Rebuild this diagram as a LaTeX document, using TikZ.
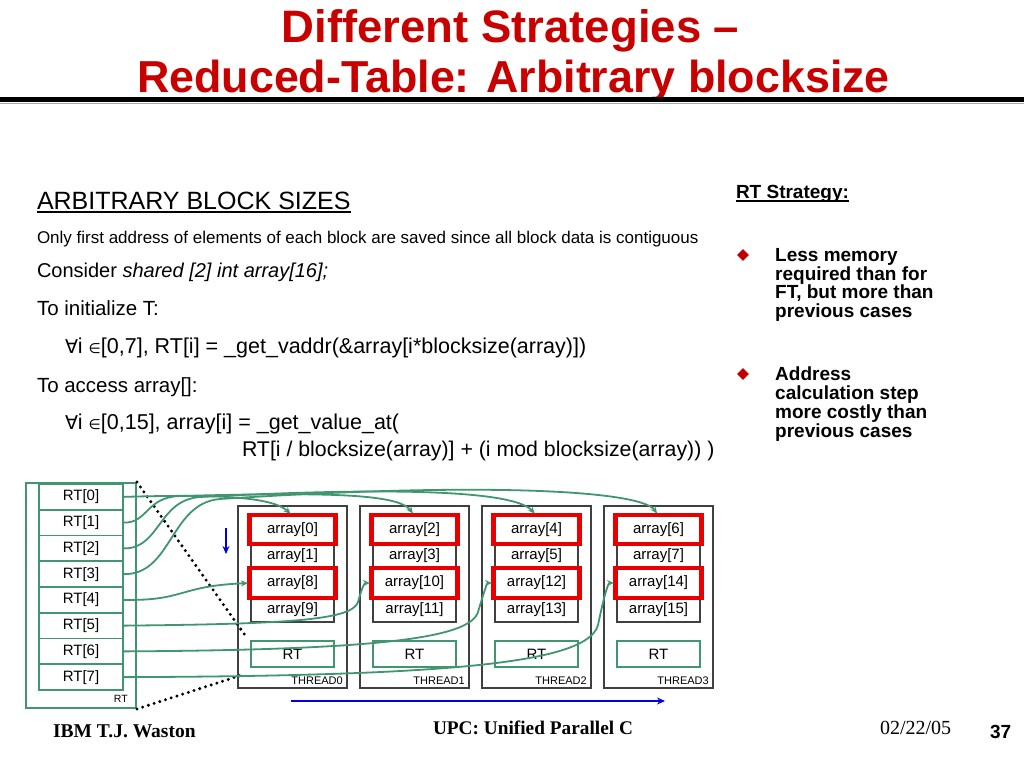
\documentclass[tikz,border=0pt]{standalone}
\usepackage{fontspec}
\setmainfont{Liberation Sans}
\newfontfamily\seriffont{Liberation Serif}
\newfontfamily\symfont{DejaVu Sans}
\usetikzlibrary{arrows.meta,shapes.geometric}
\definecolor{titlered}{RGB}{200,0,0}
\definecolor{rtgreen}{RGB}{64,150,110}
\definecolor{boxred}{RGB}{232,0,0}
\definecolor{arrblue}{RGB}{0,0,225}
\definecolor{bulletred}{RGB}{190,0,0}
\newcommand{\myfs}[1]{\fontsize{#1}{#1}\selectfont}
\begin{document}
\begin{tikzpicture}[x=1pt,y=-1pt,
  txt/.style={anchor=base west, inner sep=0pt, outer sep=0pt},
  ttl/.style={anchor=base, inner sep=0pt, text=titlered, font=\bfseries\myfs{45.5}},
  cellrt/.style={draw=rtgreen, line width=1.7pt, minimum width=84pt, minimum height=25.75pt, inner sep=0pt, font=\myfs{15}},
  arrcell/.style={draw=black!75, line width=1.1pt, minimum width=83pt, inner sep=0pt, font=\myfs{15}},
  threadbox/.style={draw=black!75, line width=1.1pt, minimum width=109pt, minimum height=182pt, inner sep=0pt},
  smallrt/.style={draw=rtgreen, line width=1.4pt, minimum width=83pt, minimum height=26pt, inner sep=0pt, font=\myfs{15}},
  redbox/.style={draw=boxred, line width=4.8pt},
  link/.style={draw=rtgreen, line width=1.8pt, -{Stealth[length=7pt,width=6pt]}, shorten >=2.5pt},
  dotline/.style={line width=3.3pt, line cap=round, dash pattern=on 0pt off 6pt},
  bluearrow/.style={draw=arrblue, line width=1.7pt, -{Stealth[length=8pt,width=7pt]}},
  bul/.style={diamond, fill=bulletred, minimum size=12pt, inner sep=0pt},
  btxt/.style={anchor=base west, inner sep=0pt, font=\bfseries\myfs{19}}
]
\useasboundingbox (0,0) rectangle (1024,768);
\fill[white] (0,0) rectangle (1024,768);

% title
\node[ttl] (title1) at (510.5,42) {Different Strategies –};
\node[ttl, font=\bfseries\myfs{44.8}] (title2) at (513.5,92) {Reduced-Table: Arbitrary blocksize};
\draw[black!35, line width=1pt] (0,103) -- (1024,103);
\draw[black, line width=5pt] (0,99) -- (1024,99);

% left text
\node[txt, font=\myfs{25}] (hd) at (37,209) {ARBITRARY BLOCK SIZES};
\draw[line width=1.5pt] ([yshift=-3pt]hd.base west) -- ([yshift=-3pt]hd.base east);
\node[txt, font=\myfs{17}] (l1) at (37,243) {Only first address of elements of each block are saved since all block data is contiguous};
\node[txt, font=\myfs{20}] (l2) at (37,277) {Consider \textit{shared [2] int array[16];}};
\node[txt, font=\myfs{20.5}] (l3) at (37,315) {To initialize T:};
\node[txt, font=\myfs{21.5}] (l4) at (65,353) {{\symfont\myfs{19}∀}i {\symfont\myfs{14}∈}[0,7], RT[i] = \_get\_vaddr(\&array[i*blocksize(array)])};
\node[txt, font=\myfs{20.5}] (l5) at (37,392) {To access array[]:};
\node[txt, font=\myfs{21.5}] (l6) at (65,429) {{\symfont\myfs{19}∀}i {\symfont\myfs{14}∈}[0,15], array[i] = \_get\_value\_at(};
\node[txt, font=\myfs{21.3}] (l7) at (242,456) {RT[i / blocksize(array)] + (i mod blocksize(array)) )};

% right panel
\node[txt, font=\bfseries\myfs{19}] (rs) at (736,198) {RT Strategy:};
\draw[line width=1.5pt] ([yshift=-3pt]rs.base west) -- ([yshift=-3pt]rs.base east);
\node[bul] (b1) at (743,255) {};
\node[btxt] (b1a) at (775,261) {Less memory};
\node[btxt] (b1b) at (775,280) {required than for};
\node[btxt] (b1c) at (775,298.5) {FT, but more than};
\node[btxt] (b1d) at (775,317) {previous cases};
\node[bul] (b2) at (743,374) {};
\node[btxt] (b2a) at (775,380) {Address};
\node[btxt] (b2b) at (775,399) {calculation step};
\node[btxt] (b2c) at (775,418) {more costly than};
\node[btxt] (b2d) at (775,437) {previous cases};

% RT table
\node[draw=rtgreen, line width=1.9pt, minimum width=110pt, minimum height=225pt, inner sep=0pt] (rtouter) at (81,595.5) {};
\foreach \j in {0,...,7} {
  \node[cellrt] (rt\j) at (81,{496.875+25.75*\j}) {RT[\j]};
}
\node[anchor=base east, inner sep=0pt, font=\myfs{10.5}] (rtlbl) at (128,702) {RT};

% threads
\foreach \k in {0,1,2,3} {
  \pgfmathtruncatemacro\aa{2*\k}
  \pgfmathtruncatemacro\ab{2*\k+1}
  \pgfmathtruncatemacro\ac{2*\k+8}
  \pgfmathtruncatemacro\ad{2*\k+9}
  \node[threadbox] (th\k) at ({292.5+122*\k},597) {};
  \node[arrcell, minimum height=27pt] (c\k-0) at ({292.5+122*\k},529.5) {array[\aa]};
  \node[arrcell, minimum height=26pt] (c\k-1) at ({292.5+122*\k},556) {array[\ab]};
  \node[arrcell, minimum height=28pt] (c\k-2) at ({292.5+122*\k},583) {array[\ac]};
  \node[arrcell, minimum height=25pt] (c\k-3) at ({292.5+122*\k},609.5) {array[\ad]};
  \draw[redbox] ([xshift=-1pt,yshift=0.5pt]c\k-0.north west) rectangle ([xshift=1pt,yshift=-0.5pt]c\k-0.south east);
  \draw[redbox] ([xshift=-1pt,yshift=0.5pt]c\k-2.north west) rectangle ([xshift=1pt,yshift=-0.5pt]c\k-2.south east);
  \node[smallrt] (trt\k) at ({292.5+122*\k},654) {RT};
  \node[anchor=base east, inner sep=0pt, font=\myfs{11}] (tl\k) at ({343+122*\k},684) {THREAD\k};
}

% dotted lines
\coordinate (d1) at (247,638);
\coordinate (d2) at (245,674);
\draw[dotline] (rtouter.north east) -- (d1);
\draw[dotline] (rtouter.south east) -- (d2);

% blue arrows
\coordinate (va) at (226,528);
\coordinate (vb) at (226,554);
\coordinate (ha) at (291,701);
\coordinate (hb) at (665,701);
\draw[bluearrow] (va) -- (vb);
\draw[bluearrow] (ha) -- (hb);

% green connectors
\draw[link] (rt0.east) .. controls (220,494) and (272,497) .. (c0-0.north);
\draw[link] (rt1.east) .. controls (148,523) and (146,497) .. (180,496) .. controls (330,492) and (398,494) .. (c1-0.north);
\draw[link] (rt2.east) .. controls (160,549) and (158,500) .. (200,497) .. controls (410,486) and (515,492) .. (c2-0.north);
\draw[link] (rt3.east) .. controls (172,575) and (170,503) .. (220,499) .. controls (480,482) and (640,490) .. (c3-0.north);
\draw[link] (rt4.east) .. controls (185,601) and (178,586) .. (c0-2.west);
\draw[link] (rt5.east) .. controls (290,624) and (352,620) .. (358,602) .. controls (362,588) and (364,583) .. (c1-2.west);
\draw[link] (rt6.east) .. controls (380,650) and (470,638) .. (478,612) .. controls (484,592) and (487,583) .. (c2-2.west);
\draw[link] (rt7.east) .. controls (460,676) and (588,662) .. (598,625) .. controls (604,596) and (608,583) .. (c3-2.west);

% footer
\node[txt, font=\seriffont\bfseries\myfs{19.5}] (f1) at (53,737) {IBM T.J. Waston};
\node[txt, font=\seriffont\bfseries\myfs{19.3}] (f2) at (433,734) {UPC: Unified Parallel C};
\node[txt, font=\seriffont\myfs{20}] (f3) at (880,734) {02/22/05};
\node[txt, font=\bfseries\myfs{19}] (f4) at (990,738) {37};
\end{tikzpicture}
\end{document}
